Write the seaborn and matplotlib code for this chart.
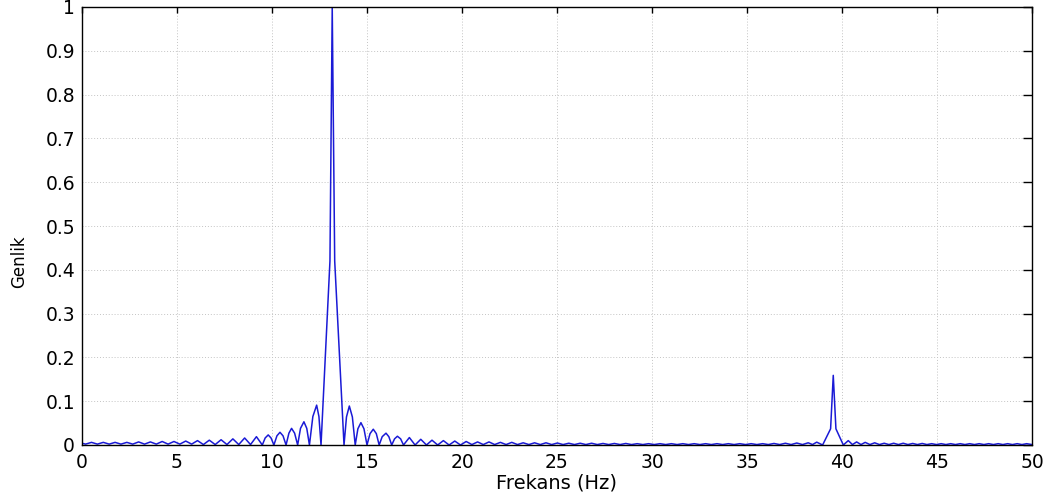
import matplotlib
matplotlib.use("Agg")
import matplotlib.pyplot as plt
import seaborn as sns
import pandas as pd

# ---- data (vertices of the spectrum) ----
freq_hz = [
    0.00, 0.19, 0.50, 0.81, 1.12, 1.43, 1.74, 2.05, 2.36, 2.67, 2.98, 3.29,
    3.60, 3.91, 4.22, 4.53, 4.84, 5.15, 5.46, 5.77, 6.08, 6.39, 6.70, 7.01,
    7.32, 7.63, 7.94, 8.25, 8.56, 8.87, 9.18, 9.49, 9.64, 9.80, 9.95, 10.10,
    10.26, 10.42, 10.58, 10.74, 10.89, 11.03, 11.19, 11.35, 11.50, 11.68, 11.83, 11.97,
    12.15, 12.35, 12.47, 12.58,
    13.05, 13.17, 13.30, 13.79,
    13.92, 14.07, 14.23, 14.38, 14.52, 14.68, 14.84, 15.00, 15.16, 15.33, 15.49, 15.64,
    15.80, 16.00, 16.15, 16.30, 16.45, 16.60, 16.77, 16.92,
    17.23, 17.53, 17.83, 18.13, 18.42, 18.72, 19.02, 19.32, 19.62, 19.92,
    20.22, 20.52, 20.82, 21.12, 21.42, 21.72, 22.02, 22.32, 22.62, 22.92,
    23.22, 23.52, 23.82, 24.12, 24.42, 24.72, 25.02, 25.32, 25.62, 25.92,
    26.22, 26.52, 26.82, 27.12, 27.42, 27.72, 28.02, 28.32, 28.62, 28.92,
    29.22, 29.52, 29.82, 30.12, 30.42, 30.72, 31.02, 31.32, 31.62, 31.92,
    32.22, 32.52, 32.82, 33.12, 33.42, 33.72, 34.02, 34.32, 34.62, 34.92,
    35.22, 35.52, 35.82, 36.12, 36.42, 36.72, 37.02, 37.32, 37.62, 37.92,
    38.22, 38.45, 38.67, 38.98,
    39.40, 39.54, 39.68, 40.07,
    40.33, 40.55, 40.77, 41.00, 41.22, 41.47, 41.72, 41.97, 42.22, 42.47,
    42.72, 42.97, 43.22, 43.47, 43.72, 43.97, 44.22, 44.47, 44.72, 44.97,
    45.22, 45.47, 45.72, 45.97, 46.22, 46.47, 46.72, 46.97, 47.22, 47.47,
    47.72, 47.97, 48.22, 48.47, 48.72, 48.97, 49.22, 49.47, 49.72, 50.00,
]
amplitude = [
    0.004, 0.002, 0.006, 0.002, 0.006, 0.002, 0.006, 0.002, 0.006, 0.002, 0.007, 0.002,
    0.007, 0.002, 0.008, 0.002, 0.008, 0.002, 0.009, 0.002, 0.010, 0.001, 0.011, 0.001,
    0.012, 0.001, 0.014, 0.001, 0.016, 0.001, 0.019, 0.000, 0.016, 0.023, 0.016, 0.000,
    0.021, 0.029, 0.021, 0.000, 0.027, 0.038, 0.027, 0.000, 0.038, 0.053, 0.038, 0.000,
    0.065, 0.091, 0.065, 0.000,
    0.420, 1.000, 0.420, 0.000,
    0.064, 0.089, 0.064, 0.000, 0.037, 0.051, 0.037, 0.000, 0.026, 0.036, 0.026, 0.000,
    0.019, 0.027, 0.019, 0.000, 0.014, 0.020, 0.014, 0.000,
    0.017, 0.000, 0.013, 0.000, 0.011, 0.000, 0.010, 0.000, 0.009, 0.000,
    0.008, 0.001, 0.007, 0.001, 0.007, 0.001, 0.006, 0.001, 0.006, 0.001,
    0.005, 0.001, 0.005, 0.001, 0.005, 0.001, 0.0045, 0.001, 0.004, 0.001,
    0.004, 0.001, 0.004, 0.001, 0.0035, 0.001, 0.0035, 0.001, 0.0035, 0.001,
    0.003, 0.001, 0.003, 0.001, 0.003, 0.001, 0.003, 0.001, 0.003, 0.001,
    0.003, 0.001, 0.003, 0.001, 0.003, 0.001, 0.003, 0.001, 0.003, 0.001,
    0.003, 0.001, 0.003, 0.001, 0.0035, 0.001, 0.004, 0.001, 0.0045, 0.001,
    0.005, 0.001, 0.0065, 0.000,
    0.037, 0.159, 0.037, 0.000,
    0.010, 0.001, 0.007, 0.001, 0.006, 0.001, 0.005, 0.001, 0.004, 0.001,
    0.004, 0.001, 0.004, 0.001, 0.0035, 0.001, 0.0035, 0.001, 0.003, 0.001,
    0.003, 0.001, 0.003, 0.001, 0.003, 0.001, 0.003, 0.001, 0.003, 0.001,
    0.003, 0.001, 0.003, 0.001, 0.003, 0.001, 0.003, 0.001, 0.003, 0.001,
]

x_ticks = [0, 5, 10, 15, 20, 25, 30, 35, 40, 45, 50]
y_ticks = [0, 0.1, 0.2, 0.3, 0.4, 0.5, 0.6, 0.7, 0.8, 0.9, 1]
y_tick_labels = ["0", "0.1", "0.2", "0.3", "0.4", "0.5", "0.6", "0.7", "0.8", "0.9", "1"]
x_label = "Frekans (Hz)"
y_label = "Genlik"

df = pd.DataFrame({"f": freq_hz, "a": amplitude})

sns.set_style("white")
plt.rcParams["font.family"] = ["DejaVu Sans"]

fig = plt.figure(figsize=(10.54, 5.04), dpi=100)
ax = fig.add_axes([82 / 1054, (504 - 445) / 504, (1032 - 82) / 1054, (445 - 7) / 504])

sns.lineplot(data=df, x="f", y="a", ax=ax, color="#1a1ad6", linewidth=1.1,
             estimator=None, sort=False)

ax.set_xlim(0, 50)
ax.set_ylim(0, 1)
ax.set_xticks(x_ticks)
ax.set_xticklabels([str(t) for t in x_ticks])
ax.set_yticks(y_ticks)
ax.set_yticklabels(y_tick_labels)

ax.grid(True, linestyle=(0, (1, 2)), color="#c4c4c4", linewidth=0.7)
ax.set_axisbelow(True)

for s in ax.spines.values():
    s.set_visible(True)
    s.set_color("black")
    s.set_linewidth(1.0)

ax.tick_params(axis="both", which="major", direction="in", top=True, right=True,
               labelsize=13.5, colors="black", width=1.0)
ax.tick_params(axis="x", length=4.5, pad=6)
ax.tick_params(axis="y", length=6.5, pad=5)

ax.set_xlabel(x_label, fontsize=14, labelpad=1, color="black")
ax.set_ylabel(y_label, fontsize=12, color="black")
ax.yaxis.set_label_coords(-0.057, 0.418)

fig.savefig("out.png", dpi=100)
